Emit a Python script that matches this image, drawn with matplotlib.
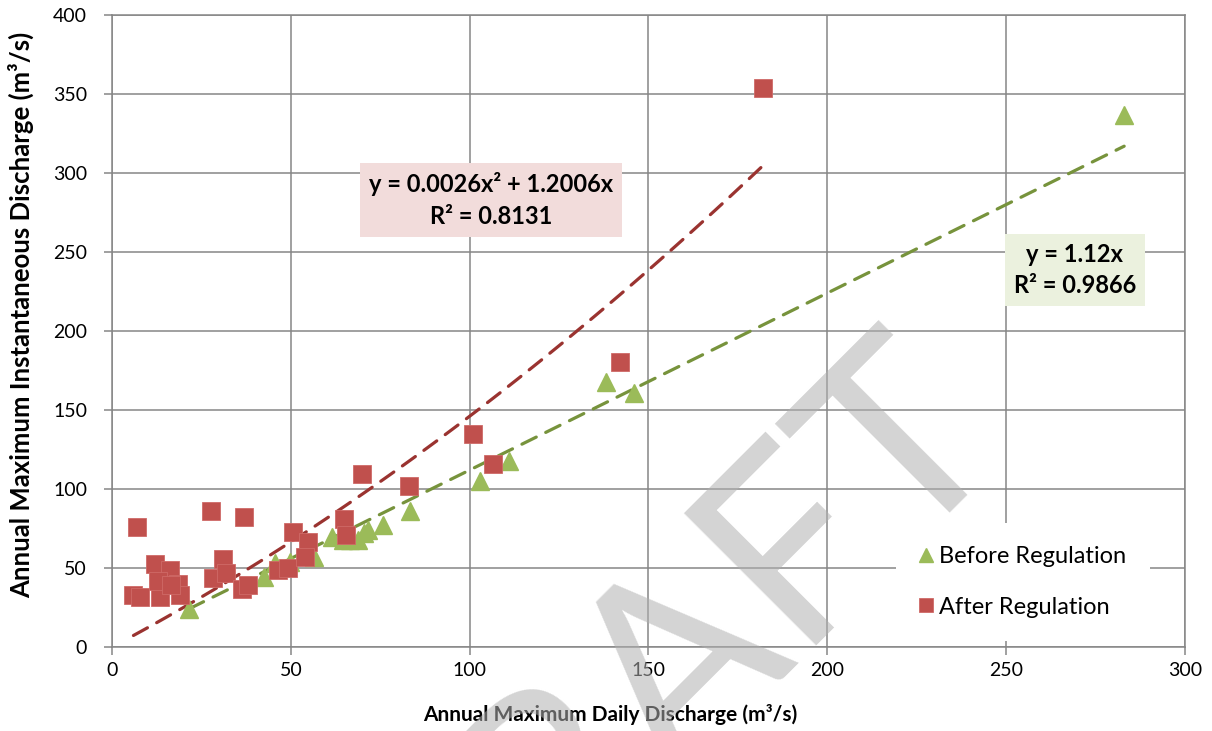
import numpy as np
import matplotlib
matplotlib.use('Agg')
import matplotlib.pyplot as plt

plt.rcParams['font.family'] = ['Lato', 'DejaVu Sans']

# before regulation (triangles)
before_x = [21.6, 42.5, 45.6, 49.8, 56.5, 61.4, 64.6, 66.5, 68.8, 70.5, 71.5,
            75.8, 83.2, 102.8, 111, 138, 146, 283]
before_y = [24, 44, 53, 54, 57, 69.5, 67.7, 68, 68, 72, 74,
            77, 86, 105, 118, 168, 161, 337]

# after regulation (squares)
after_x = [7, 27.7, 36.9, 12, 16.2, 18.4, 6, 7.8, 13.4, 19, 12.9, 16.4, 31,
           28.2, 32, 36.3, 38, 46.5, 49.3, 50.5, 54.9, 54, 64.9, 65.4, 69.8,
           83.1, 101, 106.4, 142, 182]
after_y = [76, 86, 82, 52.5, 48.7, 39.9, 33, 31.8, 31.8, 33, 42, 39, 56,
           43.6, 46.7, 37, 39, 48.7, 49.8, 73, 66.6, 57, 80.8, 70.9, 109.5,
           101.9, 135, 116, 180.6, 353.6]

# trendline coefficients as printed on the chart
lin_a = 1.12
quad_a, quad_b = 0.0026, 1.2006

fig = plt.figure(figsize=(12.12, 7.31), dpi=100)
ax = fig.add_axes([0.0924, 0.1149, 0.8853, 0.8646])

ax.set_xlim(0, 300)
ax.set_ylim(0, 400)
ax.set_xticks(range(0, 301, 50))
ax.set_yticks(range(0, 401, 50))
ax.grid(True, color='#868686', lw=1.1)
ax.set_axisbelow(True)
for s in ax.spines.values():
    s.set_color('#868686')
    s.set_linewidth(1.1)
ax.tick_params(colors='#868686', labelcolor='black', labelsize=14, length=6, width=1.1)
ax.tick_params(axis='y', pad=12)
ax.tick_params(axis='x', pad=5)

# trendlines
xb = np.linspace(min(before_x), max(before_x), 50)
ax.plot(xb, lin_a * xb, color='#77933c', lw=2.3, ls=(0, (5, 3.3)),
        dash_capstyle='round', zorder=3)
xa = np.linspace(min(after_x), max(after_x), 80)
ax.plot(xa, quad_a * xa**2 + quad_b * xa, color='#9a3330', lw=2.3,
        ls=(0, (5, 3.3)), dash_capstyle='round', zorder=3)

ax.plot(before_x, before_y, '^', color='#9bbb59', ms=13, mec='#9bbb59',
        label='Before Regulation', zorder=4)
ax.plot(after_x, after_y, 's', color='#c0504d', ms=12.5, mec='#cf6a67', mew=0.6,
        label='After Regulation', zorder=5)

ax.set_xlabel('Annual Maximum Daily Discharge (m³/s)', fontsize=15, fontweight='bold')
ax.set_ylabel('Annual Maximum Instantaneous Discharge (m³/s)', fontsize=18.5, fontweight='bold')
ax.xaxis.set_label_coords(0.464, -0.09)
ax.yaxis.set_label_coords(-0.073, 0.525)

ax.text(106, 283, 'y = 0.0026x² + 1.2006x\nR² = 0.8131', fontsize=17,
        fontweight='bold', ha='center', va='center', linespacing=1.45,
        bbox=dict(boxstyle='square,pad=0.38', fc='#f2dcdb', ec='none'), zorder=6)
ax.text(269.2, 238.6, 'y = 1.12x\nR² = 0.9866', fontsize=17,
        fontweight='bold', ha='center', va='center', linespacing=1.45,
        bbox=dict(boxstyle='square,pad=0.38', fc='#ebf1de', ec='none'), zorder=6)

leg = ax.legend(loc='center', bbox_to_anchor=(0.849, 0.103), fontsize=17,
                frameon=True, facecolor='white', edgecolor='none', framealpha=1,
                fancybox=False, borderpad=1.0, labelspacing=1.25,
                handlelength=0.6, handletextpad=0.25, markerscale=0.8)
leg.set_zorder(7)

# watermark
fig.text(0.542, 0.074, 'DRAFT', rotation=45, rotation_mode='anchor',
         fontsize=188, color='#b0b0b0', alpha=0.55, ha='center', va='center',
         zorder=10)

fig.savefig('out.png', dpi=100)
